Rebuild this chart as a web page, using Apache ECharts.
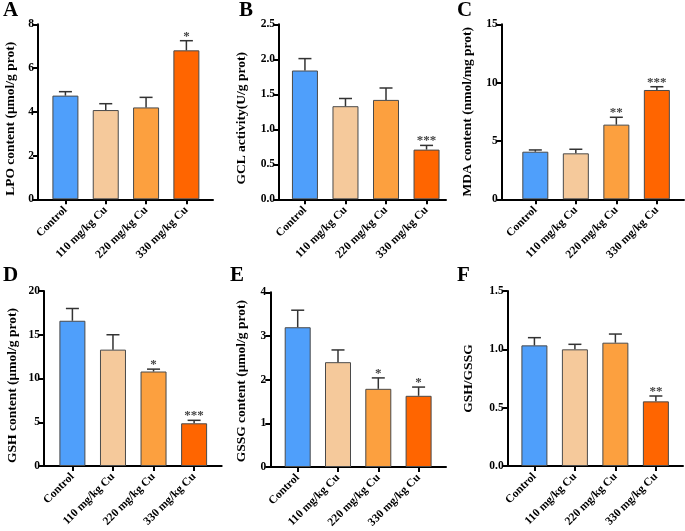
<!DOCTYPE html>
<html>
<head>
<meta charset="utf-8">
<script src="https://cdn.jsdelivr.net/npm/echarts@6/dist/echarts.min.js"></script>
<style>
html,body{margin:0;padding:0;background:#fff;}
#c{width:685px;height:531px;}
</style>
</head>
<body>
<div id="c"></div>
<script>
// ---- data ----
const categories = ['Control', '110 mg/kg Cu', '220 mg/kg Cu', '330 mg/kg Cu'];
const barColors = ['#4f9ffb', '#f5c99b', '#fca03f', '#ff6500'];

const lpoMean = [4.74, 4.08, 4.20, 6.81];
const lpoErr  = [0.18, 0.29, 0.46, 0.44];
const lpoSig  = ['', '', '', '*'];

const gclMean = [1.84, 1.33, 1.42, 0.71];
const gclErr  = [0.17, 0.11, 0.17, 0.06];
const gclSig  = ['', '', '', '***'];

const mdaMean = [4.08, 3.94, 6.40, 9.37];
const mdaErr  = [0.15, 0.35, 0.63, 0.28];
const mdaSig  = ['', '', '**', '***'];

const gshMean = [16.6, 13.3, 10.8, 4.88];
const gshErr  = [1.4, 1.7, 0.27, 0.34];
const gshSig  = ['', '', '*', '***'];

const gssgMean = [3.20, 2.40, 1.79, 1.63];
const gssgErr  = [0.39, 0.28, 0.25, 0.20];
const gssgSig  = ['', '', '*', '*'];

const ratioMean = [1.034, 1.00, 1.057, 0.554];
const ratioErr  = [0.066, 0.043, 0.074, 0.046];
const ratioSig  = ['', '', '', '**'];

const yTitles = ['LPO content (μmol/g prot)', 'GCL activity(U/g prot)', 'MDA content (nmol/mg prot)',
                 'GSH content (μmol/g prot)', 'GSSG content (μmol/g prot)', 'GSH/GSSG'];
const yMax = [8, 2.5, 15, 20, 4, 1.5];
const yInterval = [2, 0.5, 5, 5, 1, 0.5];
const yDecimals = [0, 1, 0, 0, 0, 1];
const panelLetters = ['A', 'B', 'C', 'D', 'E', 'F'];

// ---- layout ----
const FONT = '"Liberation Serif", "Times New Roman", serif';
const panels = [
  {mean: lpoMean, err: lpoErr, sig: lpoSig, grid: {left: 38, top: 24.3, width: 175, height: 175}, xr: [-0.68, 3.66], gap: 20, shift: 14, letter: [3, 0]},
  {mean: gclMean, err: gclErr, sig: gclSig, grid: {left: 279, top: 24.3, width: 167, height: 175}, xr: [-0.64, 3.48], gap: 30, shift: 13, letter: [239, 0]},
  {mean: mdaMean, err: mdaErr, sig: mdaSig, grid: {left: 501.7, top: 24.3, width: 182.3, height: 175}, xr: [-0.83, 3.67], gap: 27, shift: 0, letter: [457, 0]},
  {mean: gshMean, err: gshErr, sig: gshSig, grid: {left: 44, top: 291, width: 177.7, height: 175}, xr: [-0.70, 3.68], gap: 24, shift: 14, letter: [3, 265]},
  {mean: gssgMean, err: gssgErr, sig: gssgSig, grid: {left: 270.3, top: 292.3, width: 175.7, height: 174.7}, xr: [-0.68, 3.68], gap: 22, shift: 3, letter: [230, 265]},
  {mean: ratioMean, err: ratioErr, sig: ratioSig, grid: {left: 507.7, top: 291, width: 175.3, height: 175}, xr: [-0.66, 3.67], gap: 32, shift: 0, letter: [457, 265]}
];

const grids = [], xAxes = [], yAxes = [], series = [], graphics = [];
panels.forEach((p, i) => {
  grids.push(Object.assign({containLabel: false}, p.grid));
  xAxes.push({
    type: 'value', gridIndex: i, min: p.xr[0], max: p.xr[1],
    splitLine: {show: false},
    axisLine: {show: true, onZero: false, lineStyle: {color: '#000', width: 2}},
    axisTick: {show: true, customValues: [0, 1, 2, 3], length: 5, lineStyle: {color: '#000', width: 2}},
    axisLabel: {
      customValues: [0, 1, 2, 3], rotate: 45, margin: 9,
      fontFamily: FONT, fontWeight: 'bold', fontSize: 11.5, color: '#000',
      formatter: v => categories[Math.round(v)]
    }
  });
  yAxes.push({
    type: 'value', gridIndex: i, min: 0, max: yMax[i], interval: yInterval[i],
    name: yTitles[i], nameLocation: 'middle', nameGap: p.gap,
    nameTextStyle: {fontFamily: FONT, fontWeight: 'bold', fontSize: 13.5, color: '#000', padding: [0, p.shift, 0, 0]},
    splitLine: {show: false},
    axisLine: {show: true, onZero: false, lineStyle: {color: '#000', width: 2}},
    axisTick: {show: true, length: 5, lineStyle: {color: '#000', width: 2}},
    axisLabel: {
      fontFamily: FONT, fontWeight: 'bold', fontSize: 11.5, color: '#000', margin: 4,
      formatter: v => v.toFixed(yDecimals[i])
    }
  });
  series.push({
    type: 'bar', xAxisIndex: i, yAxisIndex: i, barWidth: 26,
    data: p.mean.map((m, k) => ({value: [k, m], itemStyle: {color: barColors[k]}})),
    itemStyle: {borderColor: '#4a4a4a', borderWidth: 1},
    silent: true, animation: false
  });
  const sig = p.sig;
  series.push({
    type: 'custom', xAxisIndex: i, yAxisIndex: i, z: 5, silent: true, animation: false,
    data: p.mean.map((m, k) => [k, m, p.err[k]]),
    renderItem: (params, api) => {
      const x = api.value(0), m = api.value(1), e = api.value(2);
      const p0 = api.coord([x, m]);
      const p1 = api.coord([x, m + e]);
      const half = 6.5;
      const st = {stroke: '#333', lineWidth: 1.5};
      const children = [
        {type: 'line', shape: {x1: p0[0], y1: p0[1], x2: p1[0], y2: p1[1]}, style: st},
        {type: 'line', shape: {x1: p1[0] - half, y1: p1[1], x2: p1[0] + half, y2: p1[1]}, style: st}
      ];
      const s = sig[params.dataIndex];
      if (s) {
        children.push({type: 'text', style: {
          text: s, x: p1[0], y: p1[1] + 2, textAlign: 'center', textVerticalAlign: 'bottom',
          fontFamily: FONT, fontWeight: 'bold', fontSize: 13, fill: '#444'
        }});
      }
      return {type: 'group', children};
    }
  });
  graphics.push({
    type: 'text', left: p.letter[0], top: p.letter[1],
    style: {text: panelLetters[i], fontFamily: FONT, fontWeight: 'bold', fontSize: 21, fill: '#000'}
  });
});

const chart = echarts.init(document.getElementById('c'), null, {renderer: 'canvas'});
chart.setOption({
  backgroundColor: '#fff',
  animation: false,
  grid: grids, xAxis: xAxes, yAxis: yAxes, series: series, graphic: graphics
});
</script>
</body>
</html>
